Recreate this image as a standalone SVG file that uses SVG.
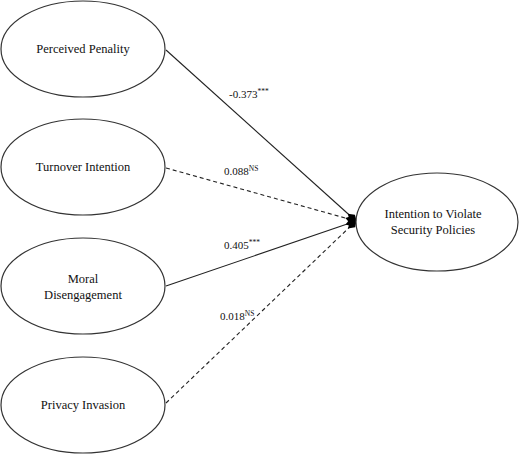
<svg xmlns="http://www.w3.org/2000/svg" width="520" height="455" viewBox="0 0 520 455">
<style>
.n{fill:#fff;stroke:#333;stroke-width:1.2}
.t{font-family:'Times New Roman','Liberation Serif',Tinos,'Noto Serif','DejaVu Serif',serif;font-size:12.5px;fill:#111;text-anchor:middle}
.l{font-family:'Times New Roman','Liberation Serif',Tinos,'Noto Serif','DejaVu Serif',serif;font-size:11px;fill:#111}
.s{font-size:7.5px}
.c{stroke:#222;stroke-width:1.1;fill:none;marker-end:url(#d)}
.dash{stroke-dasharray:4 3}
</style>
<defs>
<marker id="d" viewBox="0 0 12 8" refX="11" refY="4" markerWidth="12" markerHeight="8" markerUnits="userSpaceOnUse" orient="auto">
<path d="M0,4 L6,0 L12,4 L6,8 Z" fill="#000"/>
</marker>
</defs>
<g id="connectors">
<line class="c" x1="166" y1="50" x2="356" y2="221"/>
<line class="c dash" x1="166" y1="168" x2="356" y2="221"/>
<line class="c" x1="166" y1="286" x2="356" y2="221"/>
<line class="c dash" x1="166" y1="403" x2="356" y2="221"/>
<text class="l" x="229" y="98">-0.373<tspan class="s" dy="-4">***</tspan></text>
<text class="l" x="224" y="175">0.088<tspan class="s" dy="-4">NS</tspan></text>
<text class="l" x="224" y="249">0.405<tspan class="s" dy="-4">***</tspan></text>
<text class="l" x="220" y="320">0.018<tspan class="s" dy="-4">NS</tspan></text>
</g>
<g id="perceived-penality">
<ellipse class="n" cx="83" cy="49" rx="82" ry="48"/>
<text class="t" x="83" y="53">Perceived  Penality</text>
</g>
<g id="turnover-intention">
<ellipse class="n" cx="83" cy="167" rx="82" ry="48"/>
<text class="t" x="83" y="171">Turnover  Intention</text>
</g>
<g id="moral-disengagement">
<ellipse class="n" cx="83" cy="286" rx="82" ry="48"/>
<text class="t" x="83" y="283">Moral</text>
<text class="t" x="83" y="299">Disengagement</text>
</g>
<g id="privacy-invasion">
<ellipse class="n" cx="83" cy="405" rx="82" ry="48"/>
<text class="t" x="83" y="409">Privacy  Invasion</text>
</g>
<g id="intention">
<ellipse class="n" cx="437" cy="222" rx="81" ry="49"/>
<text class="t" x="433" y="218">Intention  to Violate</text>
<text class="t" x="433" y="234">Security  Policies</text>
</g>
</svg>
